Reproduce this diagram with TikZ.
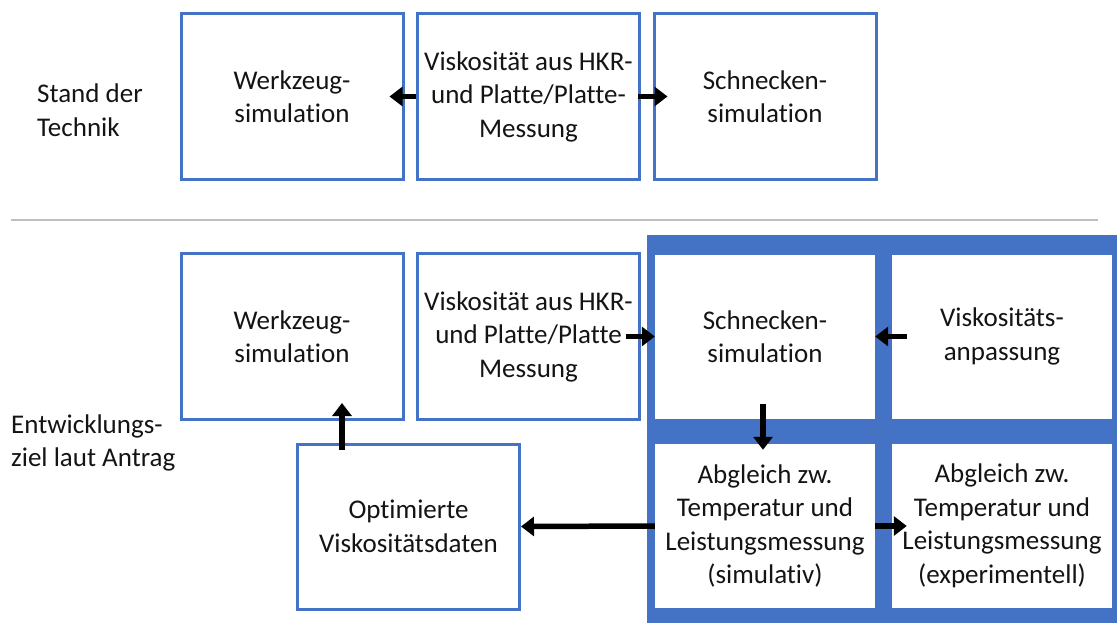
\documentclass[tikz,border=0pt]{standalone}
\usepackage{fontspec}
\setmainfont{Carlito}[Ligatures=NoCommon]
\usetikzlibrary{arrows.meta}
\definecolor{bblue}{HTML}{4472C4}
\definecolor{sepgray}{HTML}{BFBFBF}
\definecolor{txt}{HTML}{141414}
\begin{document}
\begin{tikzpicture}[x=1pt,y=-1pt,
  every node/.style={font=\fontsize{27}{33.5}\selectfont, text=txt, align=center, inner sep=0pt},
  obox/.style={draw=bblue, line width=3pt, fill=white, minimum width=222pt, minimum height=166pt},
  wbox/.style={fill=white, minimum width=220pt, minimum height=164pt},
  arr/.style={line width=5.5pt, -{Triangle[length=13pt,width=19pt]}},
  lbl/.style={anchor=west, align=left}]
\useasboundingbox (0,0) rectangle (1117,623);
% separator
\draw[sepgray, line width=2pt] (11,220) -- (1098,220);
% blue panel
\fill[bblue] (647,235) rectangle (1117,623);
% top row
\node[obox] (t1) at (292,96.5) {Werkzeug-\\simulation};
\node[obox] (t2) at (528.5,96.5) {Viskosität aus HKR-\\und Platte/Platte-\\Messung};
\node[obox] (t3) at (765,96.5) {Schnecken-\\simulation};
% bottom row
\node[obox] (w) at (292,336.5) {Werkzeug-\\simulation};
\node[obox] (v) at (528.5,336.5) {Viskosität aus HKR-\\und Platte/Platte\\Messung};
\node[wbox] (s) at (765,336.5) {Schnecken-\\simulation};
\node[wbox] (va) at (1002,336.5) {Viskositäts-\\anpassung};
\node[wbox] (a) at (765,526) {Abgleich zw.\\Temperatur und\\Leistungsmessung\\(simulativ)};
\node[wbox] (e) at (1002,526) {Abgleich zw.\\Temperatur und\\Leistungsmessung\\(experimentell)};
\node[obox, minimum height=165pt] (o) at (408.5,526.5) {Optimierte\\Viskositätsdaten};
% left labels
\node[lbl] (l1) at (37,110) {Stand der\\Technik};
\node[lbl] (l2) at (11,443) {Entwicklungs-\\ziel laut Antrag};
% arrows top
\draw[arr] (t2.west) -- ([xshift=-15pt]t1.east);
\draw[arr] ([xshift=-3pt]t2.east) -- ([xshift=15pt]t3.west);
% arrows bottom
\draw[arr] ([xshift=-15pt]v.east) -- (s.west);
\draw[arr] ([xshift=15pt]va.west) -- (s.east);
\draw[arr] ([xshift=-2pt,yshift=15pt]s.south) -- ([xshift=-2pt,yshift=-6pt]a.north);
\draw[arr] (a.east) -- ([xshift=15pt]e.west);
\draw[arr] (a.west) -- (o.east);
\draw[arr] ([xshift=-66.5pt,yshift=-7pt]o.north) -- ([xshift=50pt,yshift=18pt]w.south);
\end{tikzpicture}
\end{document}
